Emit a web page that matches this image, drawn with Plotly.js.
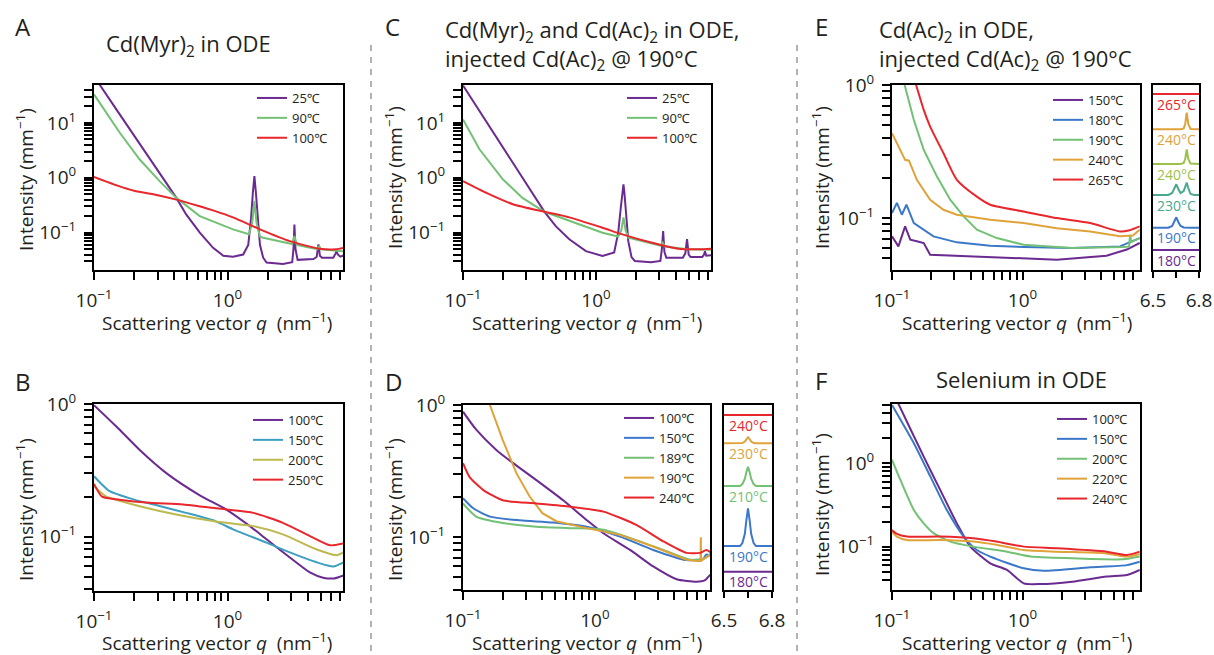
<!DOCTYPE html>
<html><head><meta charset="utf-8">
<script src="https://cdn.plot.ly/plotly-3.0.1.min.js"></script>
<style>html,body{margin:0;padding:0;background:#fff}#chart{width:1214px;height:655px}</style>
</head><body><div id="chart"></div>
<script>
// ---------- Panel A: Cd(Myr)2 in ODE ----------
const aQ25 = [0.1,0.11,0.15,0.2,0.25,0.31,0.414,0.49,0.62,0.78,0.93,1.1,1.31,1.43,1.5,1.55,1.59,1.63,1.68,1.75,1.85,1.96,2.6,3.05,3.12,3.17,3.23,3.35,4.4,4.65,4.8,4.92,5.1,6.2,6.45,6.55,6.7,7.0,7.4];
const aI25 = [66,50,16.4,5.8,2.6,1.2,0.43,0.215,0.1,0.053,0.038,0.0365,0.04,0.06,0.18,0.55,1.07,0.55,0.18,0.06,0.035,0.0285,0.027,0.029,0.05,0.14,0.05,0.032,0.033,0.036,0.061,0.038,0.035,0.035,0.042,0.046,0.04,0.0365,0.0385];
const aQ90 = [0.1,0.156,0.22,0.31,0.414,0.62,1.1,1.45,1.53,1.59,1.65,1.75,1.85,2.5,3.05,3.17,3.3,4.0,4.7,4.85,5.0,6.0,6.5,7.4];
const aI90 = [33,6.6,2.15,0.87,0.43,0.2,0.115,0.094,0.15,0.38,0.15,0.085,0.081,0.068,0.062,0.087,0.06,0.054,0.05,0.057,0.05,0.048,0.047,0.046];
const aQ100 = [0.1,0.15,0.2,0.3,0.414,0.6,0.8,1.1,1.75,2.93,4.9,6.5,7.4];
const aI100 = [1.04,0.72,0.58,0.48,0.40,0.31,0.25,0.19,0.115,0.07,0.051,0.05,0.053];

// ---------- Panel B ----------
const bQ100 = [0.1,0.147,0.22,0.35,0.62,0.98,1.47,1.96,2.93,4.14,5.2,6.3,7.4];
const bI100 = [0.98,0.676,0.45,0.3,0.205,0.16,0.12,0.0955,0.0696,0.0537,0.049,0.0484,0.051];
const bQ150 = [0.1,0.11,0.131,0.2,0.31,0.49,0.81,1.1,1.96,2.93,4.66,6.2,7.4];
const bI150 = [0.285,0.258,0.22,0.19,0.17,0.151,0.131,0.1135,0.09,0.076,0.064,0.0596,0.064];
const bQ200 = [0.1,0.124,0.175,0.31,0.55,0.98,1.56,2.6,4.66,6.6,7.4];
const bI200 = [0.24,0.2,0.18,0.156,0.139,0.127,0.12,0.104,0.08,0.0725,0.076];
const bQ250 = [0.1,0.115,0.155,0.26,0.465,0.98,1.56,2.6,4.14,5.86,7.4];
const bI250 = [0.25,0.2,0.19,0.18,0.175,0.16,0.151,0.127,0.101,0.086,0.089];

// ---------- Panel C ----------
const cQ25 = [0.1,0.15,0.2,0.3,0.41,0.5,0.63,0.84,1.12,1.37,1.47,1.54,1.58,1.61,1.64,1.68,1.75,1.85,1.96,2.6,3.05,3.13,3.2,3.27,3.38,4.5,4.7,4.84,4.98,5.15,6.3,6.5,6.6,6.75,7.4];
const cI25 = [48,10.3,3.5,0.75,0.24,0.13,0.076,0.046,0.0377,0.0435,0.1,0.3,0.6,0.76,0.5,0.2,0.07,0.036,0.0305,0.029,0.0305,0.05,0.107,0.045,0.035,0.035,0.042,0.076,0.04,0.036,0.036,0.04,0.046,0.038,0.039];
const cQ90 = [0.1,0.133,0.2,0.28,0.41,0.63,1.12,1.47,1.55,1.61,1.67,1.75,2.2,3.05,3.17,3.3,4.9,7.4];
const cI90 = [11.5,3.3,0.93,0.43,0.24,0.163,0.1,0.085,0.11,0.19,0.11,0.081,0.07,0.058,0.066,0.056,0.05,0.049];
const cQ100 = [0.1,0.15,0.237,0.41,0.63,1.12,1.58,2.6,4.15,6.5,7.4];
const cI100 = [0.87,0.53,0.33,0.24,0.19,0.123,0.093,0.066,0.051,0.05,0.051];

// ---------- Panel D ----------
const dQ100 = [0.1,0.126,0.179,0.24,0.36,0.575,0.865,1.16,1.85,2.77,4.17,5.9,6.8,7.5];
const dI100 = [0.89,0.65,0.457,0.363,0.27,0.19,0.135,0.107,0.08,0.06,0.048,0.046,0.047,0.052];
const dQ150 = [0.1,0.119,0.16,0.27,0.48,0.865,1.55,2.77,4.95,6.6,7.0,7.5];
const dI150 = [0.197,0.166,0.143,0.134,0.129,0.12,0.101,0.08,0.067,0.068,0.074,0.072];
const dQ189 = [0.1,0.126,0.2,0.36,0.65,1.16,2.06,3.7,5.3,6.8,7.5];
const dI189 = [0.18,0.143,0.128,0.12,0.117,0.114,0.095,0.0766,0.0675,0.069,0.075];
const dQ190 = [0.1,0.13,0.16,0.2,0.254,0.32,0.4,0.51,0.865,1.55,2.77,4.95,6.0,6.33,6.36,6.39,6.6,7.5];
const dI190 = [3.5,1.8,1.0,0.544,0.305,0.203,0.152,0.132,0.117,0.104,0.085,0.0675,0.066,0.066,0.1,0.066,0.068,0.073];
const dQ240 = [0.1,0.112,0.142,0.2,0.36,0.65,1.16,2.06,3.3,4.95,6.3,7.0,7.5];
const dI240 = [0.363,0.286,0.228,0.19,0.18,0.17,0.156,0.124,0.093,0.076,0.076,0.08,0.077];
// D inset (6.5-6.8 nm^-1, vertically offset)
const dInsetQ = [6.5,6.55,6.6,6.615,6.63,6.64,6.65,6.66,6.67,6.685,6.7,6.75,6.8];
const dIns240 = [175,175,175,175,175,175,175,175,175,175,175,175,175];
const dIns230 = [146.7,146.7,146.7,147,148.5,151,152.7,151,148.5,147,146.7,146.7,146.7];
const dIns210 = [104,104,104,106,111,118,123.3,118,111,106,104,104,104];
const dIns190 = [44,44,44,47,56,70,81.7,70,56,47,44,44,44];
const dIns180 = [18.3,18.3,18.3,18.3,18.3,18.3,18.3,18.3,18.3,18.3,18.3,18.3,18.3];

// ---------- Panel E ----------
const eQ265 = [0.1,0.125,0.153,0.175,0.196,0.248,0.314,0.447,0.566,1.02,1.83,3.3,5.58,6.6,7.9];
const eI265 = [3.5,1.9,1.0,0.65,0.487,0.307,0.194,0.145,0.126,0.112,0.1,0.0917,0.0794,0.081,0.0866];
const eQ240 = [0.1,0.116,0.126,0.135,0.155,0.196,0.248,0.314,0.566,1.02,1.83,3.3,5.58,7.0,7.9];
const eI240 = [0.434,0.326,0.274,0.27,0.194,0.137,0.1155,0.106,0.097,0.0917,0.084,0.0794,0.0729,0.074,0.0818];
const eQ190 = [0.1,0.125,0.147,0.175,0.221,0.28,0.354,0.447,0.635,1.02,2.4,5.9,6.55,6.67,6.8,7.9];
const eI190 = [2.3,1.0,0.546,0.326,0.205,0.137,0.103,0.0818,0.0708,0.063,0.0596,0.0607,0.061,0.075,0.066,0.0708];
const eQ180 = [0.1,0.109,0.119,0.129,0.147,0.175,0.208,0.314,0.566,1.02,2.4,5.58,7.9];
const eI180 = [0.109,0.13,0.106,0.126,0.0917,0.0818,0.0729,0.0657,0.062,0.0607,0.0596,0.0613,0.0708];
const eQ150 = [0.1,0.112,0.126,0.138,0.155,0.175,0.196,0.314,0.566,1.83,4.4,6.3,7.9];
const eI150 = [0.0729,0.0613,0.0866,0.0688,0.067,0.065,0.053,0.0522,0.051,0.0487,0.0522,0.058,0.065];
// E inset
const eInsetQ = [6.5,6.55,6.6,6.625,6.64,6.652,6.665,6.68,6.7,6.71,6.72,6.73,6.745,6.77,6.8];
const eIns265 = [176,176,176,176,176,176,176,176,176,176,176,176,176,176,176];
const eIns240a = [140.7,140.7,140.7,140.7,140.7,140.7,140.7,140.7,141.5,146,157.3,146,141,140.7,140.7];
const eIns240b = [106,106,106,106,106,106,106,106,107,111,120.7,111,106.5,106,106];
const eIns230 = [75,75,75,77,81,85.7,81,77,79,83,87.3,82,76,75,75];
const eIns190 = [42.3,42.3,42.3,44,48,52.7,48,44,42.5,42.3,42.3,42.3,42.3,42.3,42.3];
const eIns180 = [20,20,20,20,20,20,20,20,20,20,20,20,20,20,20];

// ---------- Panel F: Selenium in ODE ----------
const fQ100 = [0.1,0.112,0.175,0.234,0.314,0.398,0.566,0.76,1.02,1.36,2.4,4.4,6.3,7.9];
const fI100 = [7.6,5.15,1.2,0.479,0.19,0.1,0.063,0.0525,0.0363,0.0356,0.038,0.0437,0.0457,0.0525];
const fQ150 = [0.1,0.147,0.197,0.263,0.354,0.447,0.566,1.02,1.45,3.3,6.3,7.9];
const fI150 = [5.0,1.74,0.69,0.275,0.132,0.091,0.076,0.055,0.0515,0.0565,0.06,0.066];
const fQ200 = [0.1,0.116,0.147,0.175,0.208,0.28,0.42,0.76,1.15,2.4,5.9,7.9];
const fI200 = [1.1,0.63,0.275,0.19,0.145,0.115,0.1,0.087,0.076,0.0725,0.0705,0.076];
const fQ220 = [0.1,0.109,0.13,0.234,0.42,0.63,1.02,1.83,4.4,6.3,7.9];
const fI220 = [0.151,0.132,0.12,0.12,0.115,0.105,0.091,0.087,0.083,0.076,0.0817];
const fQ240 = [0.1,0.109,0.13,0.234,0.42,0.63,1.02,1.83,4.4,6.3,7.9];
const fI240 = [0.158,0.142,0.132,0.132,0.126,0.115,0.1,0.0955,0.087,0.0794,0.087];

// tick labels (decades labelled, 2..9 positions unlabelled)
const logTickVals = [0.1, 1, 10];
const logTickText = ['10<sup>−1</sup>', '10<sup>0</sup>', '10<sup>1</sup>'];
const insetTickVals = [6.5, 6.65, 6.8];
const insetTickText = ['6.5', '', '6.8'];

// ---------- styling ----------
const W = 1214, H = 655;
const px = x => x / W, py = y => 1 - y / H;
const FONT = 'Open Sans, Noto Sans, sans-serif';
const TXT = '#231f20';
const C = {purple:'#6b2a90', red:'#e8262b', green:'#72c174', blue:'#3b78c8', orange:'#e0a33a',
           cyan:'#3d9fbf', olive:'#bdb94e', ygreen:'#9dbf4c', teal:'#4aa88e'};

// all log tick positions: labelled decades plus unlabelled 2..9 positions
const allTickVals = [], allTickText = [];
for (let d = -2; d <= 1; d++) for (let k = 1; k <= 9; k++) {
  const v = +(k * Math.pow(10, d)).toPrecision(3);
  allTickVals.push(v);
  const m = logTickVals.indexOf(v);
  allTickText.push(m >= 0 ? logTickText[m] : '');
}
function logAxis(x0, x1, range, anchor, isX) {
  return {
    type:'log', domain: isX ? [px(x0), px(x1)] : [py(x1), py(x0)], range: range, anchor: anchor,
    tickmode:'array', tickvals: allTickVals, ticktext: allTickText,
    ticks:'outside', ticklen:8, tickwidth:2, tickcolor:'#000', ticklabelstandoff:4,
    showline:true, linewidth:2, linecolor:'#000', mirror:true, showgrid:false, zeroline:false,
    tickfont:{size:19, family:FONT, color:TXT}
  };
}
function insetX(x0, x1, anchor) {
  return {type:'linear', domain:[px(x0), px(x1)], range:[6.5, 6.8], anchor: anchor,
    tickmode:'array', tickvals: insetTickVals, ticktext: insetTickText,
    ticks:'outside', ticklen:6, tickwidth:2, tickcolor:'#000', ticklabelstandoff:6,
    showline:true, linewidth:2, linecolor:'#000', mirror:true, showgrid:false, zeroline:false,
    tickfont:{size:19, family:FONT, color:TXT}};
}
function insetY(y0, y1, anchor) {
  return {type:'linear', domain:[py(y1), py(y0)], range:[0, 185], anchor: anchor,
    showticklabels:false, ticks:'', showline:true, linewidth:2, linecolor:'#000', mirror:true,
    showgrid:false, zeroline:false};
}
function tr(q, I, name, color, ax, legend, shape) {
  return {type:'scatter', mode:'lines', x:q, y:I, name:name, xaxis:'x'+ax, yaxis:'y'+ax,
    legend: legend, showlegend: !!legend,
    line:{color:color, width:2, shape: shape || 'spline', smoothing:0.6}};
}
const traces = [
  tr(aQ25, aI25, '25℃', C.purple, '', 'legend', 'linear'),
  tr(aQ90, aI90, '90℃', C.green, '', 'legend', 'linear'),
  tr(aQ100, aI100, '100℃', C.red, '', 'legend'),
  tr(bQ100, bI100, '100℃', C.purple, '2', 'legend2'),
  tr(bQ150, bI150, '150℃', C.cyan, '2', 'legend2'),
  tr(bQ200, bI200, '200℃', C.olive, '2', 'legend2'),
  tr(bQ250, bI250, '250℃', C.red, '2', 'legend2'),
  tr(cQ25, cI25, '25℃', C.purple, '3', 'legend3', 'linear'),
  tr(cQ90, cI90, '90℃', C.green, '3', 'legend3', 'linear'),
  tr(cQ100, cI100, '100℃', C.red, '3', 'legend3'),
  tr(dQ100, dI100, '100℃', C.purple, '4', 'legend4'),
  tr(dQ150, dI150, '150℃', C.blue, '4', 'legend4'),
  tr(dQ189, dI189, '189℃', C.green, '4', 'legend4'),
  tr(dQ190, dI190, '190℃', C.orange, '4', 'legend4', 'linear'),
  tr(dQ240, dI240, '240℃', C.red, '4', 'legend4'),
  tr(eQ150, eI150, '150℃', C.purple, '6', 'legend5', 'linear'),
  tr(eQ180, eI180, '180℃', C.blue, '6', 'legend5', 'linear'),
  tr(eQ190, eI190, '190℃', C.green, '6', 'legend5', 'linear'),
  tr(eQ240, eI240, '240℃', C.orange, '6', 'legend5', 'linear'),
  tr(eQ265, eI265, '265℃', C.red, '6', 'legend5'),
  tr(fQ100, fI100, '100℃', C.purple, '8', 'legend6'),
  tr(fQ150, fI150, '150℃', C.blue, '8', 'legend6'),
  tr(fQ200, fI200, '200℃', C.green, '8', 'legend6'),
  tr(fQ220, fI220, '220℃', C.orange, '8', 'legend6'),
  tr(fQ240, fI240, '240℃', C.red, '8', 'legend6')
];
const dInset = [[dIns240,'240°C',C.red],[dIns230,'230°C',C.orange],[dIns210,'210°C',C.green],[dIns190,'190°C',C.blue],[dIns180,'180°C',C.purple]];
const eInset = [[eIns265,'265°C',C.red],[eIns240a,'240°C',C.orange],[eIns240b,'240°C',C.ygreen],[eIns230,'230°C',C.teal],[eIns190,'190°C',C.blue],[eIns180,'180°C',C.purple]];
const annotations = [];
dInset.forEach(([v, lab, col]) => {
  traces.push(tr(dInsetQ, v, lab, col, '5', null, 'linear'));
  annotations.push({xref:'x5', yref:'y5', x:6.65, y:v[0] - 10, text:lab, showarrow:false, font:{size:14, family:FONT, color:col}});
});
eInset.forEach(([v, lab, col]) => {
  traces.push(tr(eInsetQ, v, lab, col, '7', null, 'linear'));
  annotations.push({xref:'x7', yref:'y7', x:6.65, y:v[0] - 10, text:lab, showarrow:false, font:{size:14, family:FONT, color:col}});
});

function ann(text, x, y, size, xanchor, angle) {
  annotations.push({xref:'paper', yref:'paper', x:px(x), y:py(y), text:text, showarrow:false,
    xanchor: xanchor || 'center', yanchor:'middle', textangle: angle || 0, align:'left',
    font:{size:size, family:FONT, color:TXT}});
}
// panel letters
ann('A', 13, 26, 24, 'left'); ann('B', 13, 381, 24, 'left');
ann('C', 383, 26, 24, 'left'); ann('D', 383, 381, 24, 'left');
ann('E', 813, 26, 24, 'left'); ann('F', 813, 380, 24, 'left');
// panel titles
ann('Cd(Myr)<sub>2</sub> in ODE', 188, 45, 22);
ann('Cd(Myr)<sub>2</sub> and Cd(Ac)<sub>2</sub> in ODE,<br>injected Cd(Ac)<sub>2</sub> @ 190°C', 443, 45, 22, 'left');
ann('Cd(Ac)<sub>2</sub> in ODE,<br>injected Cd(Ac)<sub>2</sub> @ 190°C', 877, 45, 22, 'left');
ann('Selenium in ODE', 1021, 379, 22);
// axis titles
const xt = 'Scattering vector <i>q</i>  (nm<sup>−1</sup>)';
const yt = 'Intensity (mm<sup>−1</sup>)';
ann(xt, 217, 322, 19); ann(xt, 587, 322, 19); ann(xt, 1017, 322, 19);
ann(xt, 217, 642, 19); ann(xt, 587, 642, 19); ann(xt, 1017, 642, 19);
ann(yt, 25, 180, 19, 'center', -90); ann(yt, 25, 510, 19, 'center', -90);
ann(yt, 394, 178, 19, 'center', -90); ann(yt, 394, 510, 19, 'center', -90);
ann(yt, 821, 178, 19, 'center', -90); ann(yt, 821, 505, 19, 'center', -90);

function leg(x, y) {
  return {x:px(x), y:py(y), xanchor:'left', yanchor:'top', bgcolor:'rgba(0,0,0,0)', borderwidth:0,
    font:{size:13, family:FONT, color:TXT}, itemwidth:30, tracegroupgap:0};
}
const layout = {
  width:W, height:H, margin:{l:0, r:0, t:0, b:0}, paper_bgcolor:'#fff', plot_bgcolor:'#fff',
  font:{family:FONT, color:TXT}, hovermode:false,
  xaxis:  logAxis(94, 343, [-1, 0.865], 'y', true),
  yaxis:  logAxis(85, 270, [-1.68, 1.69], 'x', false),
  xaxis2: logAxis(94, 343, [-1, 0.865], 'y2', true),
  yaxis2: logAxis(404, 591, [-1.41, 0], 'x2', false),
  xaxis3: logAxis(463, 711, [-1, 0.865], 'y3', true),
  yaxis3: logAxis(85, 270, [-1.68, 1.69], 'x3', false),
  xaxis4: logAxis(463, 710, [-1, 0.873], 'y4', true),
  yaxis4: logAxis(405, 590, [-1.40, 0], 'x4', false),
  xaxis5: insetX(724, 772, 'y5'),
  yaxis5: insetY(405, 590, 'x5'),
  xaxis6: logAxis(892, 1140, [-1, 0.9], 'y6', true),
  yaxis6: logAxis(85, 270, [-1.39, 0], 'x6', false),
  xaxis7: insetX(1153, 1199, 'y7'),
  yaxis7: insetY(85, 270, 'x7'),
  xaxis8: logAxis(892, 1140, [-1, 0.9], 'y8', true),
  yaxis8: logAxis(404, 590, [-1.52, 0.71], 'x8', false),
  legend: leg(252, 83), legend2: leg(248, 405), legend3: leg(622, 83),
  legend4: leg(619, 403), legend5: leg(1048, 85), legend6: leg(1052, 404),
  annotations: annotations,
  shapes: [371, 797].map(x => ({type:'line', xref:'paper', yref:'paper', x0:px(x), x1:px(x), y0:py(45), y1:py(655),
    line:{color:'#9b9b9b', width:1.5, dash:'6px,6px'}}))
};
Plotly.newPlot('chart', traces, layout, {staticPlot:true, displayModeBar:false});
</script></body></html>
